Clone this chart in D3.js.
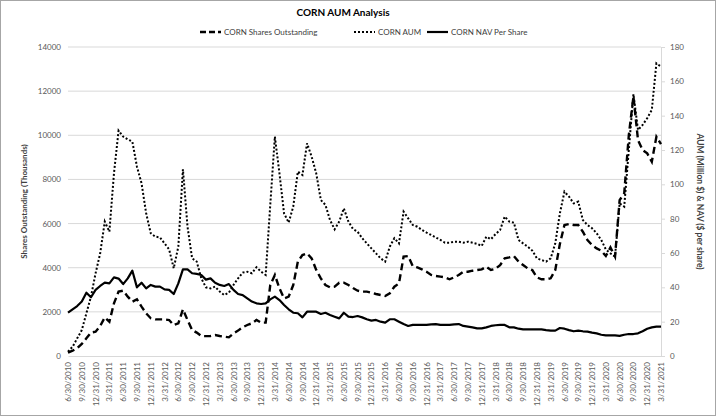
<!DOCTYPE html>
<html><head><meta charset="utf-8">
<script src="https://cdn.jsdelivr.net/npm/d3@7"></script>
<style>html,body{margin:0;padding:0;background:#fff}svg{display:block;font-family:Lato,"Open Sans",sans-serif}</style>
</head><body><svg id="c" width="716" height="416"></svg>
<script>
const tickLabels = ["6/30/2010","9/30/2010","12/31/2010","3/31/2011","6/30/2011","9/30/2011","12/31/2011","3/31/2012","6/30/2012","9/30/2012","12/31/2012","3/31/2013","6/30/2013","9/30/2013","12/31/2013","3/31/2014","6/30/2014","9/30/2014","12/31/2014","3/31/2015","6/30/2015","9/30/2015","12/31/2015","3/31/2016","6/30/2016","9/30/2016","12/31/2016","3/31/2017","6/30/2017","9/30/2017","12/31/2017","3/31/2018","6/30/2018","9/30/2018","12/31/2018","3/31/2019","6/30/2019","9/30/2019","12/31/2019","3/31/2020","6/30/2020","9/30/2020","12/31/2020","3/31/2021"];
// monthly values, June 2010 .. March 2021
const sharesOutstanding = [150,240,350,545,800,1060,1100,1360,1750,1555,2385,2915,2960,2690,2460,2570,2235,1930,1710,1660,1660,1660,1630,1400,1480,2115,1630,1180,1060,905,900,905,950,905,875,845,1025,1150,1300,1405,1480,1630,1510,1510,3215,3670,3065,2610,2690,3215,4275,4575,4650,4425,3900,3520,3215,3110,3140,3320,3320,3215,3080,2960,2915,2915,2870,2810,2765,2720,2840,3140,3290,4500,4530,4075,4015,3925,3820,3670,3625,3595,3565,3475,3565,3670,3820,3820,3865,3895,3925,4045,3895,3950,4120,4425,4470,4530,4275,4120,3970,3895,3565,3475,3475,3520,3895,5075,5935,5980,5935,5935,5630,5255,5030,4875,4770,4530,4920,4500,7065,7370,10010,11750,9785,9330,9180,8805,9935,9600];
const aum = [2.5,5.4,10.3,15.1,24.9,34.6,48.2,59.8,78.3,72.4,106.4,131.3,127.8,126.2,124.9,110.3,100.6,83.1,71.5,69.5,69.1,65.6,62.1,51.1,63.7,108.8,75.3,56.9,55.0,45.2,40,39.4,40.4,37.5,35.5,36.9,41.4,45.2,48.6,49.1,48.2,51.7,49.1,47.2,88.0,127.8,106.4,83.1,77.7,87.0,107.4,105.4,123.9,116.1,106.4,90.9,88.0,79.2,73.8,78.3,86.0,78.3,74,72.4,68.6,65.6,62.7,59.8,56.9,55.0,63.7,68.6,65.6,84.1,80.2,76.3,75.3,73.4,71.9,70.5,69.1,67.6,66.0,66.0,66.6,66.6,66.0,66.6,66.0,65.3,64.1,69.5,68.0,71,73.4,81.2,78.3,77.7,67.6,65.6,63.7,61.4,56.9,55.9,55.0,56.9,65.6,83.1,95.7,92.8,88.9,89.9,79.2,76.3,74.4,71.5,67.6,62.1,59.8,57.9,88.9,87.0,120.0,152.6,131.7,134.6,138.5,143.3,170.5,168.6];
const navPerShare = [25.2,27.2,29.1,31.7,36.9,34.2,38.5,40.8,42.7,42.3,45.8,45.1,41.9,45.2,49.7,40.0,42.7,39.4,41.4,40.4,40.4,38.8,38.5,36.1,42.3,50.5,50.5,48.2,47.8,47.2,44.5,45.2,42.7,41.4,40.8,41.9,38.5,36.1,35.5,33.6,31.7,30.7,30.3,30.7,33.0,34.6,32.6,29.7,27.2,25.2,24.9,22.5,25.8,25.8,25.8,24.5,25.2,23.9,22.9,21.9,25.2,22.9,22.7,23.3,22.5,21.4,20.6,21.0,20.0,19.4,21.4,21.4,20.0,18.6,17.5,18.1,18.1,18.1,18.1,18.4,18.6,18.1,18.1,18.1,18.4,18.6,17.5,17.1,16.7,16.1,16.1,16.7,17.5,17.9,18.1,18.1,16.7,16.7,15.9,15.5,15.5,15.5,15.5,15.5,15.1,14.8,14.8,16.3,15.9,15.1,14.4,14.8,14.4,14.2,13.6,13.2,12.4,12.0,12.0,12.0,11.7,12.4,12.8,12.8,13.2,14.4,15.9,16.7,17.1,17.1];
const leftTicks = [0,2000,4000,6000,8000,10000,12000,14000];
const rightTicks = [0,20,40,60,80,100,120,140,160,180];

const svg = d3.select("#c");
const L=68, R=661, T=47, B=356;
const n = sharesOutstanding.length;
const x = d3.scaleLinear().domain([0,n-1]).range([L,R]);
const yL = d3.scaleLinear().domain([0,14000]).range([B,T]);
const yR = d3.scaleLinear().domain([0,180]).range([B,T]);
const txt = "#404040", tick = "#595959";

svg.append("rect").attr("x",0.5).attr("y",0.5).attr("width",715).attr("height",415).attr("fill","#fff").attr("stroke","#a6a6a6");

// gridlines
svg.append("g").selectAll("line").data(leftTicks.filter(d=>d>0)).join("line")
  .attr("x1",L).attr("x2",R).attr("y1",d=>yL(d)).attr("y2",d=>yL(d))
  .attr("stroke","#d9d9d9").attr("stroke-width",1);

// left axis
const gl = svg.append("g").attr("transform",`translate(${L},0)`)
  .call(d3.axisLeft(yL).tickValues(leftTicks).tickSize(0).tickPadding(7).tickFormat(d3.format("d")));
gl.select(".domain").remove();
gl.selectAll("text").attr("font-size",8).attr("fill",tick).attr("font-family","Lato");

// right axis
const gr = svg.append("g").attr("transform",`translate(${R},0)`)
  .call(d3.axisRight(yR).tickValues(rightTicks).tickSize(4).tickPadding(5));
gr.select(".domain").attr("stroke","#d9d9d9");
gr.selectAll(".tick line").attr("stroke","#d9d9d9");
gr.selectAll("text").attr("font-size",8).attr("fill",tick).attr("font-family","Lato");

// bottom axis
const gb = svg.append("g").attr("transform",`translate(0,${B})`)
  .call(d3.axisBottom(x).tickValues(tickLabels.map((d,i)=>i*3)).tickFormat((d,i)=>tickLabels[i]).tickSize(0));
gb.select(".domain").attr("stroke","#d9d9d9");
gb.selectAll("text").attr("font-size",8).attr("fill",tick).attr("font-family","Lato")
  .attr("text-anchor","end").attr("dy","0.32em")
  .attr("transform","translate(0,6) rotate(-90)").attr("x",0).attr("y",0);

// lines
const lineL = d3.line().x((d,i)=>x(i)).y(d=>yL(d));
const lineR = d3.line().x((d,i)=>x(i)).y(d=>yR(d));
svg.append("path").datum(navPerShare).attr("d",lineR).attr("fill","none").attr("stroke","#000").attr("stroke-width",2.2).attr("stroke-linejoin","round");
svg.append("path").datum(aum).attr("d",lineR).attr("fill","none").attr("stroke","#000").attr("stroke-width",2).attr("stroke-dasharray","2,2");
svg.append("path").datum(sharesOutstanding).attr("d",lineL).attr("fill","none").attr("stroke","#000").attr("stroke-width",2.4).attr("stroke-dasharray","7,4");

// title
svg.append("text").attr("x",343).attr("y",16).attr("text-anchor","middle").attr("font-size",10).attr("font-weight","bold").attr("fill","#000").text("CORN AUM Analysis");

// legend
const legend = [
  {label:"CORN Shares Outstanding", dash:"6,3", w:2.4, x:200},
  {label:"CORN AUM", dash:"2,2", w:2, x:354},
  {label:"CORN NAV Per Share", dash:null, w:2.2, x:427}
];
const lg = svg.append("g").selectAll("g").data(legend).join("g").attr("transform",d=>`translate(${d.x},32)`);
lg.append("line").attr("x1",0).attr("x2",21).attr("y1",0).attr("y2",0).attr("stroke","#000")
  .attr("stroke-width",d=>d.w).attr("stroke-dasharray",d=>d.dash);
lg.append("text").attr("x",24).attr("y",0).attr("dy","0.35em").attr("font-size",8).attr("fill",txt).text(d=>d.label);

// axis titles
svg.append("text").attr("transform",`translate(27,${(T+B)/2}) rotate(-90)`).attr("text-anchor","middle")
  .attr("font-size",8).attr("font-weight","bold").attr("fill",txt).text("Shares Outstanding (Thousands)");
svg.append("text").attr("transform",`translate(697,${(T+B)/2}) rotate(90)`).attr("text-anchor","middle")
  .attr("font-size",8.5).attr("font-weight","bold").attr("fill",txt).text("AUM (Million $) & NAV ($ per share)");
</script></body></html>
